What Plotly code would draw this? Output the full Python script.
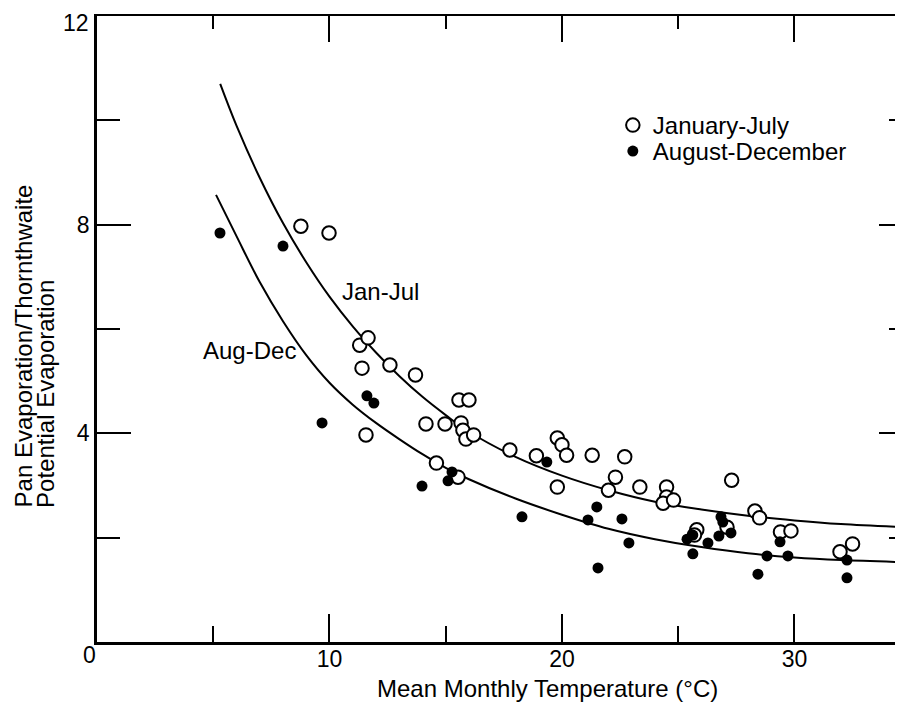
import plotly.graph_objects as go

# January-July observations (mean monthly temperature °C, ratio)
jan_t = [8.77, 9.98, 11.3, 11.66, 11.4, 11.57, 12.6, 13.7, 14.15, 14.97, 14.6, 15.53,
         15.57, 16.0, 15.66, 15.74, 15.87, 16.2, 17.76, 18.9, 19.8, 20.0, 20.2, 19.8,
         21.3, 22.7, 22.3, 22.0, 23.35, 24.5, 24.5, 24.35, 24.8, 27.3, 25.8, 25.7,
         27.1, 28.3, 28.5, 29.4, 29.85, 31.96, 32.5]
jan_v = [7.97, 7.84, 5.69, 5.83, 5.25, 3.97, 5.31, 5.12, 4.18, 4.18, 3.43, 3.16,
         4.64, 4.64, 4.2, 4.06, 3.89, 3.97, 3.68, 3.57, 3.91, 3.78, 3.58, 2.97,
         3.58, 3.55, 3.16, 2.91, 2.97, 2.97, 2.78, 2.66, 2.72, 3.1, 2.15, 2.05,
         2.2, 2.51, 2.38, 2.11, 2.13, 1.73, 1.88]

# August-December observations
aug_t = [5.29, 8.0, 9.68, 11.61, 11.91, 13.98, 15.1, 15.27, 18.28, 19.35, 21.12, 21.5,
         21.55, 22.58, 22.88, 25.38, 25.63, 25.63, 26.28, 26.84, 26.92, 26.75, 27.27,
         28.43, 28.82, 29.38, 29.72, 32.26, 32.26]
aug_v = [7.84, 7.59, 4.2, 4.72, 4.58, 2.99, 3.09, 3.26, 2.4, 3.45, 2.34, 2.59,
         1.42, 2.36, 1.9, 1.97, 2.05, 1.69, 1.9, 2.4, 2.3, 2.03, 2.09,
         1.3, 1.65, 1.92, 1.65, 1.57, 1.23]

# Fitted curves
jan_curve_t = [5.3, 6, 7, 8, 9, 10, 11, 12, 13, 14, 15, 16, 18, 20, 22, 24, 26, 28,
               30, 32, 34.67]
jan_curve_v = [10.7, 9.9, 8.9, 8.03, 7.28, 6.62, 6.05, 5.55, 5.1, 4.7, 4.35, 4.03,
               3.55, 3.19, 2.91, 2.69, 2.54, 2.42, 2.33, 2.26, 2.2]
aug_curve_t = [5.12, 6, 7, 8, 9, 10, 11, 12, 13, 14, 15, 16, 18, 20, 22, 24, 26, 28,
               30, 32, 34.67]
aug_curve_v = [8.57, 7.78, 6.9, 6.15, 5.5, 4.97, 4.55, 4.2, 3.89, 3.6, 3.34, 3.12,
               2.75, 2.44, 2.17, 1.97, 1.82, 1.7, 1.62, 1.57, 1.53]

x_ticks = [10, 20, 30]
y_ticks = [4, 8, 12]
y_ticktext = ["4", "8", ""]   # "12" is drawn as an annotation so it is not clipped

FONT = "Liberation Sans, Arial, Helvetica, sans-serif"

fig = go.Figure()
fig.add_trace(go.Scatter(x=jan_curve_t, y=jan_curve_v, mode="lines",
                         line=dict(color="black", width=2, shape="spline", smoothing=1),
                         showlegend=False, hoverinfo="skip"))
fig.add_trace(go.Scatter(x=aug_curve_t, y=aug_curve_v, mode="lines",
                         line=dict(color="black", width=2, shape="spline", smoothing=1),
                         showlegend=False, hoverinfo="skip"))
fig.add_trace(go.Scatter(x=jan_t, y=jan_v, mode="markers", name="January-July",
                         legend="legend",
                         marker=dict(symbol="circle", size=13.5, color="white",
                                     line=dict(color="black", width=2))))
fig.add_trace(go.Scatter(x=aug_t, y=aug_v, mode="markers", name="August-December",
                         legend="legend2",
                         marker=dict(symbol="circle", size=11, color="black",
                                     line=dict(color="black", width=0))))
# helper invisible trace for top / right axes
fig.add_trace(go.Scatter(x=[0], y=[0], xaxis="x2", yaxis="y2", mode="markers",
                         marker=dict(opacity=0), showlegend=False, hoverinfo="skip"))

fig.update_layout(
    width=895, height=696,
    margin=dict(l=89, r=0, t=8, b=62),
    paper_bgcolor="white", plot_bgcolor="white",
    font=dict(family=FONT, size=24, color="black"),
    xaxis=dict(range=[0, 34.67], tickvals=x_ticks, ticktext=[str(v) for v in x_ticks],
               ticks="inside", ticklen=28, tickwidth=2, tickcolor="black",
               minor=dict(dtick=5, tick0=0, ticks="inside", ticklen=16, tickwidth=2,
                          tickcolor="black"),
               showline=True, linewidth=2.5, linecolor="black", showgrid=False,
               zeroline=False, tickfont=dict(size=23), ticklabelstandoff=-5,
               ticklabeloverflow="allow", automargin=False),
    yaxis=dict(range=[0, 12], tickvals=y_ticks, ticktext=y_ticktext,
               ticks="inside", ticklen=34, tickwidth=2, tickcolor="black",
               minor=dict(dtick=2, tick0=0, ticks="inside", ticklen=23, tickwidth=2,
                          tickcolor="black"),
               showline=True, linewidth=2.5, linecolor="black", showgrid=False,
               zeroline=False, tickfont=dict(size=23), ticklabelstandoff=0,
               ticklabeloverflow="allow", automargin=False),
    xaxis2=dict(overlaying="x", side="top", range=[0, 34.67], tickvals=[10, 20, 30],
                showticklabels=False, ticks="inside", ticklen=26, tickwidth=2,
                tickcolor="black",
                minor=dict(dtick=5, tick0=0, ticks="inside", ticklen=13, tickwidth=2,
                           tickcolor="black"),
                showline=True, linewidth=2, linecolor="black", showgrid=False,
                zeroline=False, automargin=False),
    yaxis2=dict(overlaying="y", side="right", range=[0, 12], tickvals=[4, 8],
                showticklabels=False, ticks="inside", ticklen=24, tickwidth=2,
                tickcolor="black",
                minor=dict(dtick=2, tick0=0, ticks="inside", ticklen=14, tickwidth=2,
                           tickcolor="black"),
                showline=False, showgrid=False, zeroline=False, automargin=False),
    legend=dict(x=0.640, y=0.861, xanchor="left", yanchor="top",
                bgcolor="rgba(0,0,0,0)", font=dict(size=24)),
    legend2=dict(x=0.640, y=0.8195, xanchor="left", yanchor="top",
                 bgcolor="rgba(0,0,0,0)", font=dict(size=24)),
    showlegend=True,
)

fig.add_annotation(x=0, y=1, xref="paper", yref="paper", text="12",
                   showarrow=False, font=dict(size=23), xanchor="right",
                   yanchor="top", xshift=-6, yshift=8)
fig.add_annotation(x=12.2, y=6.71, text="Jan-Jul", showarrow=False,
                   font=dict(size=24), xref="x", yref="y")
fig.add_annotation(x=6.58, y=5.58, text="Aug-Dec", showarrow=False,
                   font=dict(size=24), xref="x", yref="y")
fig.add_annotation(x=-0.0087, y=-0.0208, xref="paper", yref="paper", text="0",
                   showarrow=False, font=dict(size=23), xanchor="center",
                   yanchor="middle")
fig.add_annotation(x=(547 - 97) / 806, y=-0.0735, xref="paper", yref="paper",
                   text="Mean Monthly Temperature (°C)", showarrow=False,
                   font=dict(size=24), xanchor="center", yanchor="middle")
fig.add_annotation(x=-0.0918, y=0.211, xref="paper", yref="paper",
                   text="Pan Evaporation/Thornthwaite",
                   textangle=-90, showarrow=False, font=dict(size=24),
                   xanchor="center", yanchor="bottom")
fig.add_annotation(x=-0.0633, y=0.211, xref="paper", yref="paper",
                   text="Potential Evaporation",
                   textangle=-90, showarrow=False, font=dict(size=24),
                   xanchor="center", yanchor="bottom")

fig.write_html("out.html")
